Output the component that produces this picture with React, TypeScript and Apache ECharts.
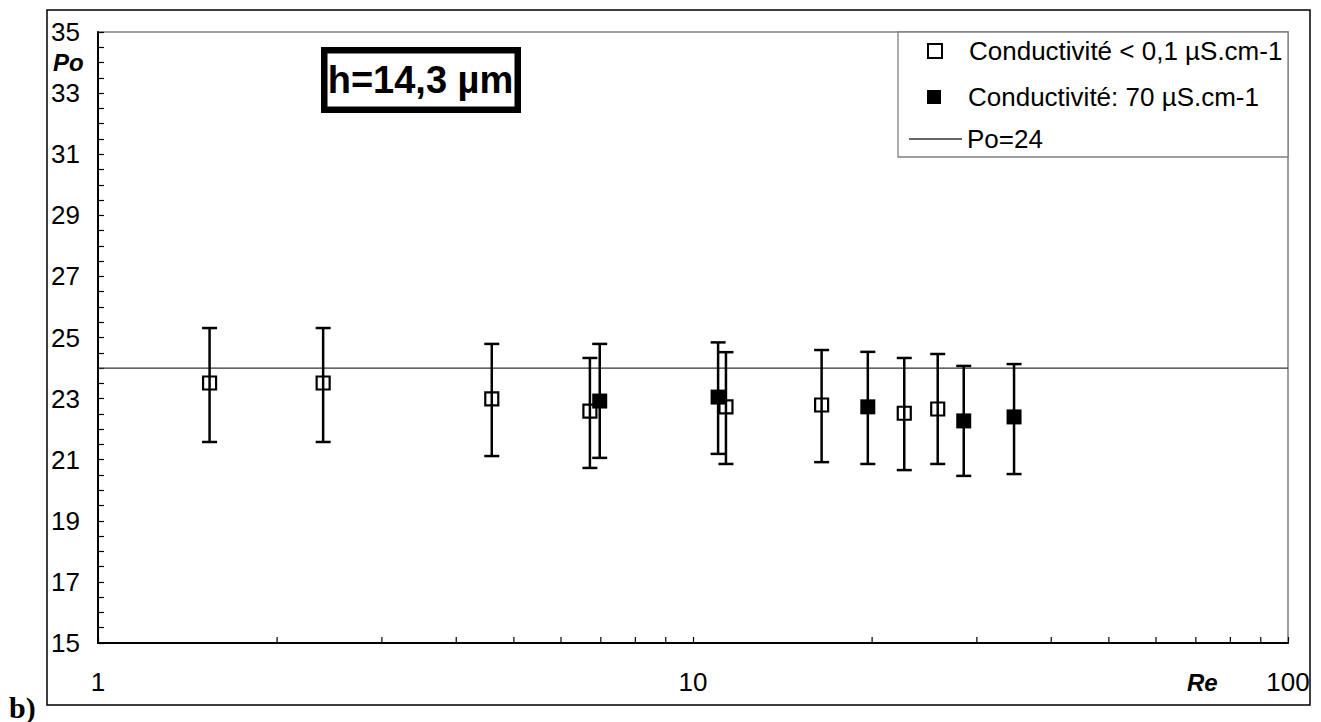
import React, { useEffect, useRef } from "react";
import * as echarts from "echarts";

// Open squares: Conductivité < 0,1 µS.cm-1
const reOpen = [1.54, 2.39, 4.59, 6.71, 11.36, 16.45, 22.65, 25.78];
const poOpen = [23.51, 23.51, 22.99, 22.59, 22.73, 22.79, 22.52, 22.66];
const lowOpen = [21.58, 21.58, 21.12, 20.73, 20.86, 20.92, 20.66, 20.86];
const highOpen = [25.31, 25.31, 24.79, 24.33, 24.52, 24.59, 24.33, 24.46];

// Filled squares: Conductivité: 70 µS.cm-1
const reFilled = [6.97, 11.02, 19.67, 28.51, 34.64];
const poFilled = [22.92, 23.05, 22.73, 22.27, 22.4];
const lowFilled = [21.06, 21.19, 20.86, 20.47, 20.53];
const highFilled = [24.79, 24.84, 24.53, 24.07, 24.13];

// Reference line
const poRef = 24;
const reRange = [1, 100];

// Minor ticks of the log axis
const xMinorTicks = [2, 3, 4, 5, 6, 7, 8, 9, 20, 30, 40, 50, 60, 70, 80, 90];

const nameOpen = "Conductivité < 0,1 µS.cm-1";
const nameFilled = "Conductivité: 70 µS.cm-1";
const nameRef = "Po=24";

const FONT = "'Liberation Sans', Arial, sans-serif";

function errorBarItem(params: any, api: any) {
  const x = api.value(0);
  const lo = api.coord([x, api.value(1)]);
  const hi = api.coord([x, api.value(2)]);
  const hw = 7.5;
  const st = { stroke: "#000", lineWidth: 2.5 };
  return {
    type: "group",
    children: [
      { type: "line", shape: { x1: lo[0], y1: lo[1], x2: hi[0], y2: hi[1] }, style: st },
      { type: "line", shape: { x1: lo[0] - hw, y1: lo[1], x2: lo[0] + hw, y2: lo[1] }, style: st },
      { type: "line", shape: { x1: hi[0] - hw, y1: hi[1], x2: hi[0] + hw, y2: hi[1] }, style: st },
    ],
  };
}

function minorTickItem(params: any, api: any) {
  const p = api.coord([api.value(0), api.value(1)]);
  return {
    type: "line",
    shape: { x1: p[0], y1: p[1], x2: p[0], y2: p[1] - 6 },
    style: { stroke: "#000", lineWidth: 1.2 },
  };
}

export default function App() {
  const ref = useRef<HTMLDivElement>(null);
  useEffect(() => {
    if (!ref.current) return;
    const chart = echarts.init(ref.current, undefined, { renderer: "svg" });
    const legendCommon = {
      orient: "vertical",
      itemHeight: 14,
      itemGap: 0,
      padding: 0,
      z: 10,
      selectedMode: false,
      textStyle: {
        fontSize: 26,
        fontFamily: FONT,
        color: "#000",
        lineHeight: 28,
        rich: { gap: { width: 22, fontSize: 26, lineHeight: 28 } },
      },
    };
    chart.setOption({
      animation: false,
      backgroundColor: "#fff",
      grid: {
        left: 98,
        right: 33,
        top: 32,
        bottom: 79,
        show: true,
        borderColor: "#808080",
        borderWidth: 1.5,
        backgroundColor: "transparent",
      },
      xAxis: {
        type: "log",
        logBase: 10,
        min: reRange[0],
        max: reRange[1],
        axisLine: { show: true, lineStyle: { color: "#000", width: 2 } },
        axisTick: { show: true, inside: true, length: 6, lineStyle: { color: "#000", width: 1.2 } },
        splitLine: { show: false },
        axisLabel: { fontSize: 26, fontFamily: FONT, color: "#000", margin: 26 },
      },
      yAxis: {
        type: "value",
        min: 15,
        max: 35,
        interval: 1,
        axisLine: { show: true, lineStyle: { color: "#000", width: 2 } },
        axisTick: { show: true, inside: true, length: 6, lineStyle: { color: "#000", width: 1.2 } },
        minorTick: { show: true, splitNumber: 2, length: 6, lineStyle: { color: "#000", width: 1.2 } },
        splitLine: { show: false },
        minorSplitLine: { show: false },
        axisLabel: {
          fontSize: 26,
          fontFamily: FONT,
          color: "#000",
          margin: 18,
          formatter: (v: number) => (Math.round(v) % 2 === 1 ? String(Math.round(v)) : ""),
        },
      },
      legend: [
        {
          ...legendCommon,
          left: 927,
          top: 51 - 14,
          itemWidth: 14,
          formatter: (n: string) => "{gap|}" + n,
          data: [{ name: nameOpen, icon: "rect", itemStyle: { color: "#fff", borderColor: "#000", borderWidth: 2 } }],
        },
        {
          ...legendCommon,
          left: 927,
          top: 97 - 14,
          itemWidth: 14,
          formatter: (n: string) => "{gap|}" + n,
          data: [{ name: nameFilled, icon: "rect", itemStyle: { color: "#000", borderWidth: 0 } }],
        },
        {
          ...legendCommon,
          left: 909,
          top: 139 - 14,
          itemWidth: 53,
          itemHeight: 1.4,
          data: [{ name: nameRef, icon: "rect", itemStyle: { color: "#333", borderWidth: 0 } }],
        },
      ],
      graphic: [
        {
          type: "rect",
          z: -10,
          silent: true,
          shape: { x: 47, y: 10, width: 1263, height: 695 },
          style: { fill: "none", stroke: "#000", lineWidth: 1.5 },
        },
        {
          type: "rect",
          z: 5,
          shape: { x: 898, y: 32, width: 390, height: 125 },
          style: { fill: "#fff", stroke: "#808080", lineWidth: 1.3 },
        },
        {
          type: "rect",
          z: 5,
          shape: { x: 324.25, y: 50.25, width: 193.5, height: 59.5 },
          style: { fill: "#fff", stroke: "#000", lineWidth: 6.5 },
        },
        {
          type: "text",
          z: 6,
          x: 420.5,
          y: 80,
          style: {
            text: "h=14,3 µm",
            fontSize: 38,
            fontWeight: "bold",
            fontFamily: FONT,
            fill: "#000",
            align: "center",
            verticalAlign: "middle",
          },
        },
        {
          type: "text",
          z: 6,
          x: 53,
          y: 62,
          style: {
            text: "Po",
            fontSize: 24,
            fontWeight: "bold",
            fontStyle: "italic",
            fontFamily: FONT,
            fill: "#000",
            align: "left",
            verticalAlign: "middle",
          },
        },
        {
          type: "text",
          z: 6,
          x: 1187,
          y: 682,
          style: {
            text: "Re",
            fontSize: 24,
            fontWeight: "bold",
            fontStyle: "italic",
            fontFamily: FONT,
            fill: "#000",
            align: "left",
            verticalAlign: "middle",
          },
        },
        {
          type: "text",
          z: 6,
          x: 9,
          y: 707,
          style: {
            text: "b)",
            fontSize: 30,
            fontWeight: "bold",
            fontFamily: "'Liberation Serif', 'Times New Roman', serif",
            fill: "#000",
            align: "left",
            verticalAlign: "middle",
          },
        },
      ],
      series: [
        {
          name: nameRef,
          type: "line",
          data: [
            [reRange[0], poRef],
            [reRange[1], poRef],
          ],
          symbol: "none",
          showSymbol: false,
          lineStyle: { color: "#333", width: 1.3 },
          itemStyle: { color: "#333" },
          z: 1,
        },
        {
          name: "minorTicks",
          type: "custom",
          renderItem: minorTickItem,
          data: xMinorTicks.map((v) => [v, 15]),
          encode: { x: 0, y: 1 },
          clip: false,
          silent: true,
          z: 3,
        },
        {
          name: nameOpen + " err",
          type: "custom",
          renderItem: errorBarItem,
          data: reOpen.map((x, i) => [x, lowOpen[i], highOpen[i]]),
          encode: { x: 0, y: [1, 2] },
          silent: true,
          z: 2,
        },
        {
          name: nameFilled + " err",
          type: "custom",
          renderItem: errorBarItem,
          data: reFilled.map((x, i) => [x, lowFilled[i], highFilled[i]]),
          encode: { x: 0, y: [1, 2] },
          silent: true,
          z: 2,
        },
        {
          name: nameOpen,
          type: "scatter",
          symbol: "rect",
          symbolSize: 13,
          data: reOpen.map((x, i) => [x, poOpen[i]]),
          itemStyle: { color: "rgba(255,255,255,0)", borderColor: "#000", borderWidth: 2.2, opacity: 1 },
          z: 4,
        },
        {
          name: nameFilled,
          type: "scatter",
          symbol: "rect",
          symbolSize: 15,
          data: reFilled.map((x, i) => [x, poFilled[i]]),
          itemStyle: { color: "#000", borderWidth: 0, opacity: 1 },
          z: 4,
        },
      ],
    });
    return () => chart.dispose();
  }, []);
  return (
    <div
      ref={ref}
      style={{ position: "fixed", left: 0, top: 0, width: 1321, height: 722, background: "#fff" }}
    />
  );
}
